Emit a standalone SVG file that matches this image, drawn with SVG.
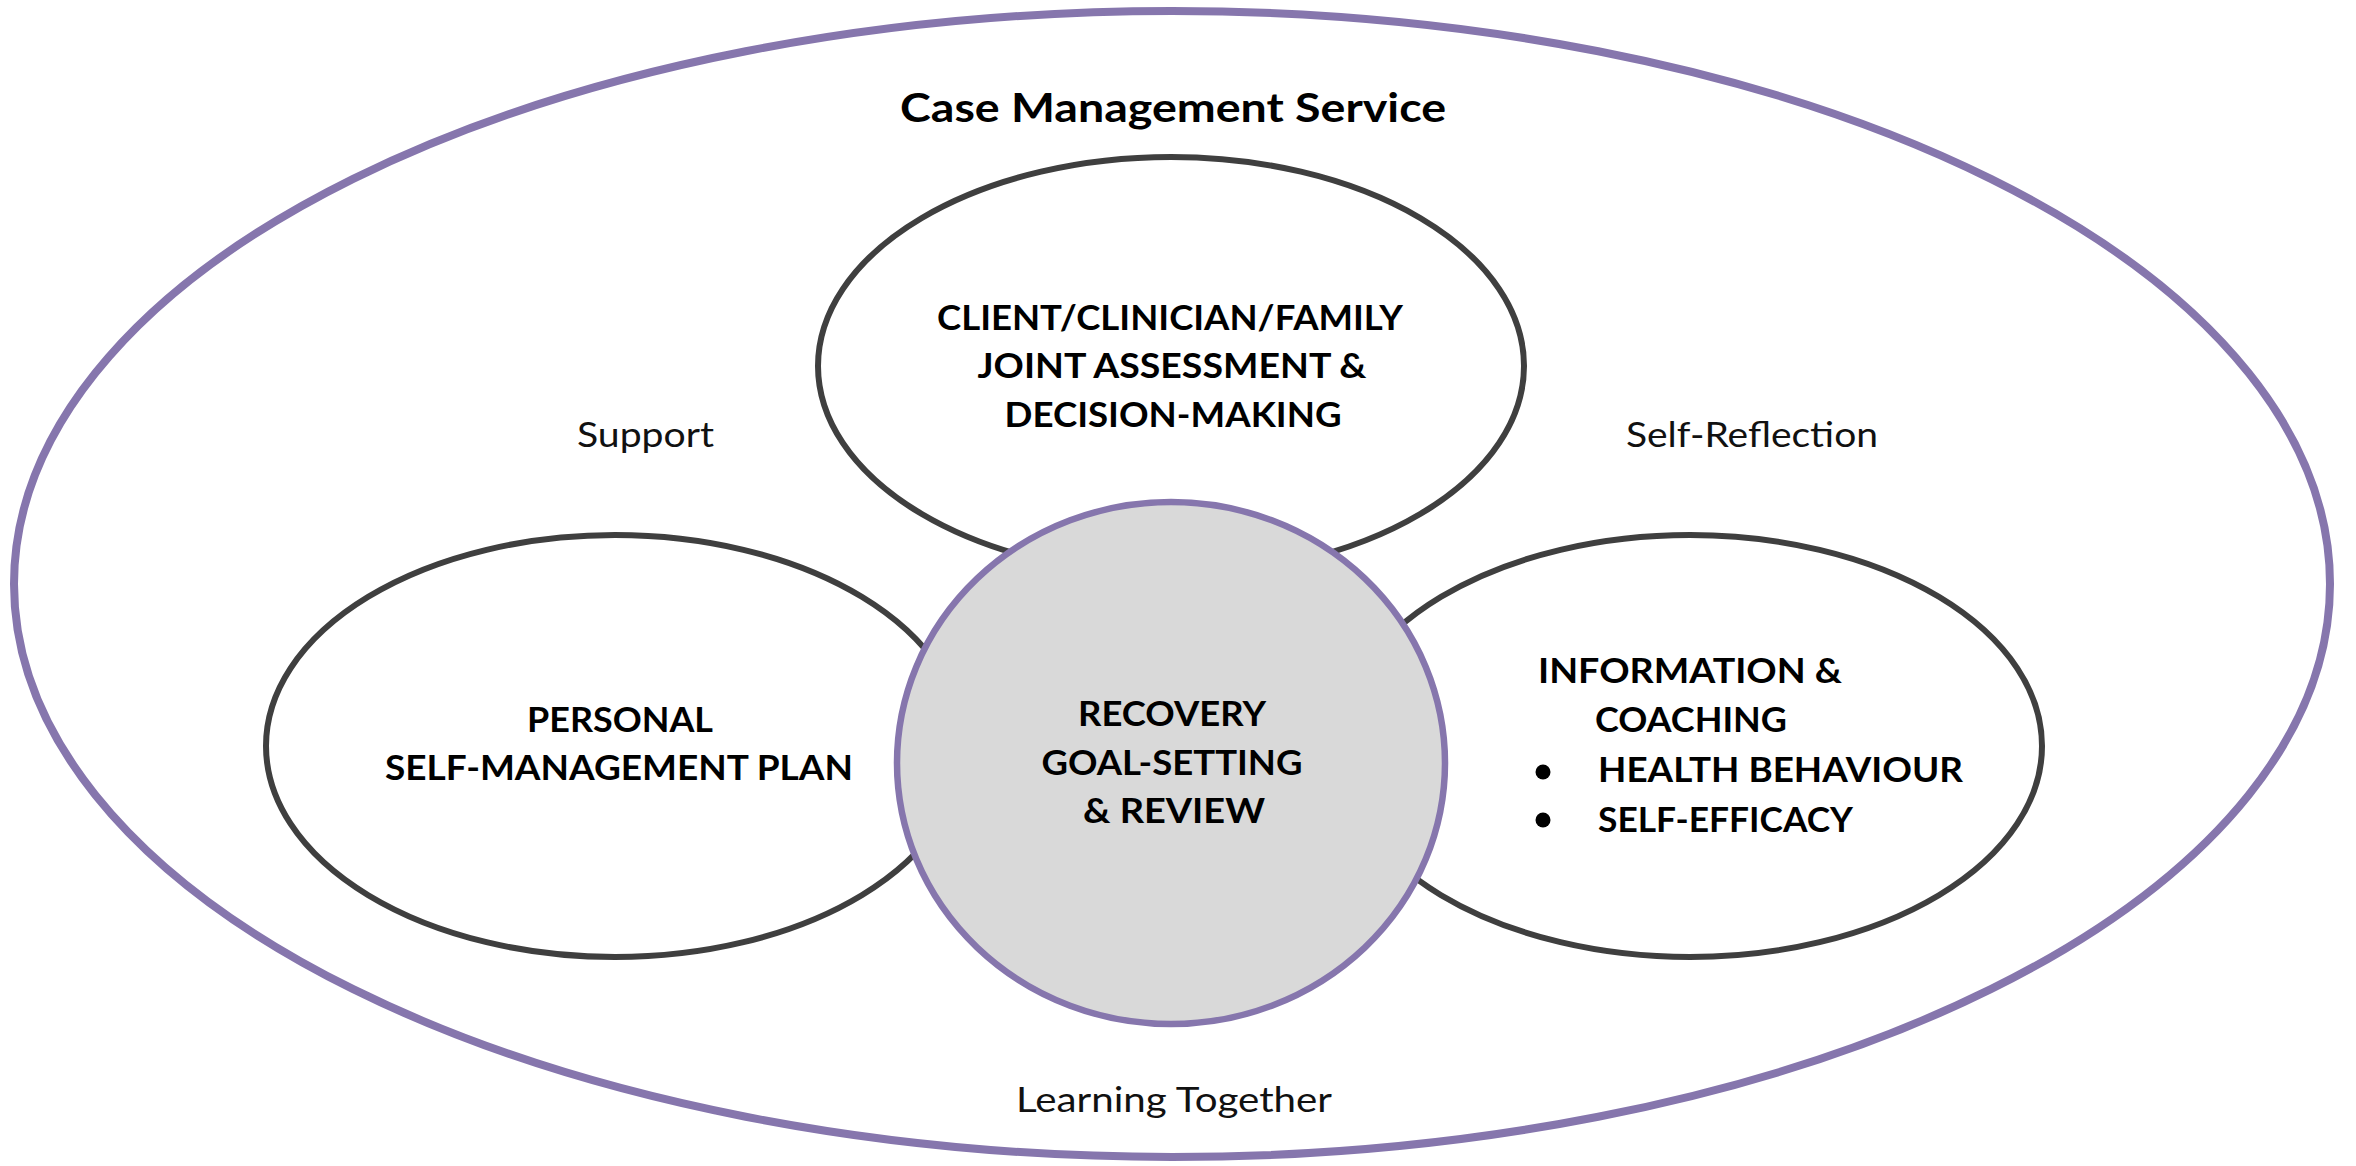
<svg xmlns="http://www.w3.org/2000/svg" width="2356" height="1166" viewBox="0 0 2356 1166">
  <style>
    .outer { fill: #ffffff; stroke: #8676ad; stroke-width: 8; }
    .node { fill: #ffffff; stroke: #3f3f3f; stroke-width: 6; }
    .hub { fill: #d9d9d9; stroke: #8676ad; stroke-width: 6.5; }
    .label { font-family: Lato, "Liberation Sans", Arial, sans-serif; font-weight: 700; font-size: 34px; fill: #000000; }
    .title { font-family: Lato, "Liberation Sans", Arial, sans-serif; font-weight: 700; font-size: 40px; fill: #000000; }
    .theme { font-family: Lato, "Liberation Sans", Arial, sans-serif; font-weight: 400; font-size: 34px; fill: #111111; }
    .mid { text-anchor: middle; }
  </style>

  <rect x="0" y="0" width="2356" height="1166" fill="#ffffff"/>

  <!-- service boundary -->
  <g id="case-management-service">
    <ellipse class="outer" cx="1172" cy="584" rx="1158" ry="573"/>
    <text class="title mid" x="1173" y="122" textLength="546" lengthAdjust="spacingAndGlyphs">Case Management Service</text>
  </g>

  <!-- themes between the nodes -->
  <g id="themes">
    <text class="theme" x="577" y="447" textLength="137" lengthAdjust="spacingAndGlyphs">Support</text>
    <text class="theme" x="1626" y="447" textLength="252" lengthAdjust="spacingAndGlyphs">Self-Reflection</text>
    <text class="theme" x="1016" y="1112" textLength="316" lengthAdjust="spacingAndGlyphs">Learning Together</text>
  </g>

  <g id="connectors"></g>

  <g id="joint-assessment">
    <ellipse class="node" cx="1171" cy="366" rx="353" ry="209"/>
    <text class="label mid" x="1170" y="330" textLength="466" lengthAdjust="spacingAndGlyphs">CLIENT/CLINICIAN/FAMILY</text>
    <text class="label mid" x="1172" y="378" textLength="389" lengthAdjust="spacingAndGlyphs">JOINT ASSESSMENT &amp;</text>
    <text class="label mid" x="1173" y="427" textLength="337" lengthAdjust="spacingAndGlyphs">DECISION-MAKING</text>
  </g>

  <g id="self-management-plan">
    <ellipse class="node" cx="615" cy="746" rx="349" ry="211"/>
    <text class="label mid" x="620" y="732" textLength="186" lengthAdjust="spacingAndGlyphs">PERSONAL</text>
    <text class="label mid" x="619" y="780" textLength="468" lengthAdjust="spacingAndGlyphs">SELF-MANAGEMENT PLAN</text>
  </g>

  <g id="information-coaching">
    <ellipse class="node" cx="1690" cy="746" rx="352" ry="211"/>
    <text class="label" x="1538" y="683" textLength="304" lengthAdjust="spacingAndGlyphs">INFORMATION &amp;</text>
    <text class="label" x="1595" y="732" textLength="192" lengthAdjust="spacingAndGlyphs">COACHING</text>
    <circle cx="1543" cy="772" r="7.5" fill="#000000"/>
    <text class="label" x="1598" y="782" textLength="365" lengthAdjust="spacingAndGlyphs">HEALTH BEHAVIOUR</text>
    <circle cx="1543" cy="820" r="7.5" fill="#000000"/>
    <text class="label" x="1598" y="832" textLength="255" lengthAdjust="spacingAndGlyphs">SELF-EFFICACY</text>
  </g>

  <g id="recovery-goal-setting">
    <ellipse class="hub" cx="1171" cy="763" rx="274" ry="261"/>
    <text class="label mid" x="1172" y="726" textLength="188" lengthAdjust="spacingAndGlyphs">RECOVERY</text>
    <text class="label mid" x="1172" y="775" textLength="261" lengthAdjust="spacingAndGlyphs">GOAL-SETTING</text>
    <text class="label mid" x="1174" y="823" textLength="182" lengthAdjust="spacingAndGlyphs">&amp; REVIEW</text>
  </g>
</svg>
